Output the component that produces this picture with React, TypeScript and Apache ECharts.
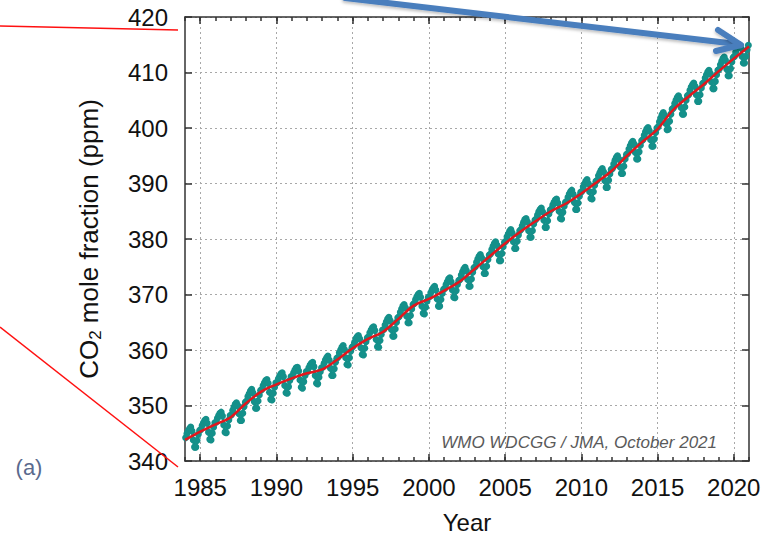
import React, { useEffect, useRef } from "react";
import * as echarts from "echarts";

const FONT = '"Liberation Sans", Arial, Helvetica, sans-serif';

const startYear = 1984;
// Monthly global-mean CO2 (ppm), Jan..Dec, one row per year 1984-2020
const co2ByYear: number[][] = [
  [344.2, 344.9, 345.4, 345.8, 346.1, 345.4, 343.8, 342.5, 342.5, 343.7, 344.8, 345.5],
  [345.7, 346.4, 346.9, 347.3, 347.5, 346.8, 345.2, 343.9, 343.8, 345.0, 346.1, 346.9],
  [347.0, 347.7, 348.2, 348.6, 348.8, 348.1, 346.5, 345.2, 345.1, 346.3, 347.4, 348.2],
  [348.3, 349.1, 349.7, 350.2, 350.5, 350.0, 348.5, 347.3, 347.3, 348.6, 349.8, 350.6],
  [350.8, 351.6, 352.1, 352.6, 352.9, 352.3, 350.7, 349.5, 349.5, 350.8, 351.9, 352.7],
  [352.9, 353.6, 354.1, 354.5, 354.7, 354.0, 352.4, 351.1, 351.0, 352.2, 353.3, 354.1],
  [354.1, 354.8, 355.3, 355.7, 355.9, 355.2, 353.6, 352.3, 352.2, 353.4, 354.5, 355.2],
  [355.2, 355.9, 356.4, 356.8, 356.9, 356.2, 354.6, 353.3, 353.1, 354.3, 355.4, 356.1],
  [356.1, 356.8, 357.3, 357.6, 357.8, 357.0, 355.4, 354.0, 353.9, 355.1, 356.1, 356.8],
  [356.9, 357.6, 358.2, 358.6, 358.9, 358.2, 356.7, 355.4, 355.4, 356.6, 357.8, 358.5],
  [358.7, 359.5, 360.0, 360.5, 360.8, 360.1, 358.6, 357.4, 357.3, 358.6, 359.8, 360.5],
  [360.7, 361.4, 362.0, 362.4, 362.6, 362.0, 360.4, 359.2, 359.1, 360.3, 361.5, 362.2],
  [362.4, 363.1, 363.6, 364.0, 364.2, 363.5, 361.9, 360.6, 360.5, 361.7, 362.8, 363.6],
  [363.7, 364.5, 365.1, 365.6, 365.9, 365.3, 363.7, 362.5, 362.5, 363.8, 365.0, 365.8],
  [366.0, 366.8, 367.4, 367.9, 368.2, 367.6, 366.1, 364.9, 364.9, 366.2, 367.4, 368.2],
  [368.4, 369.1, 369.6, 370.0, 370.2, 369.5, 367.9, 366.6, 366.5, 367.7, 368.8, 369.5],
  [369.6, 370.3, 370.8, 371.2, 371.5, 370.8, 369.2, 367.9, 367.9, 369.1, 370.2, 370.9],
  [371.1, 371.8, 372.3, 372.8, 373.0, 372.3, 370.8, 369.5, 369.4, 370.7, 371.8, 372.5],
  [372.7, 373.5, 374.1, 374.6, 374.9, 374.3, 372.7, 371.5, 371.5, 372.8, 374.0, 374.8],
  [375.0, 375.8, 376.4, 376.9, 377.2, 376.6, 375.0, 373.8, 373.8, 375.1, 376.3, 377.1],
  [377.3, 378.1, 378.7, 379.2, 379.5, 378.9, 377.3, 376.1, 376.1, 377.4, 378.6, 379.4],
  [379.6, 380.4, 380.9, 381.4, 381.7, 381.1, 379.5, 378.3, 378.3, 379.6, 380.7, 381.5],
  [381.7, 382.4, 383.0, 383.5, 383.7, 383.1, 381.5, 380.3, 380.3, 381.5, 382.7, 383.4],
  [383.6, 384.3, 384.9, 385.3, 385.6, 384.9, 383.4, 382.1, 382.1, 383.3, 384.5, 385.2],
  [385.4, 386.1, 386.6, 387.0, 387.2, 386.5, 385.0, 383.7, 383.6, 384.8, 385.9, 386.6],
  [386.8, 387.5, 388.1, 388.5, 388.8, 388.1, 386.6, 385.3, 385.3, 386.5, 387.7, 388.4],
  [388.6, 389.4, 389.9, 390.4, 390.7, 390.0, 388.5, 387.3, 387.2, 388.5, 389.7, 390.4],
  [390.6, 391.4, 391.9, 392.4, 392.7, 392.1, 390.5, 389.3, 389.3, 390.6, 391.7, 392.5],
  [392.7, 393.5, 394.2, 394.7, 395.0, 394.4, 393.0, 391.8, 391.8, 393.1, 394.4, 395.2],
  [395.4, 396.2, 396.8, 397.3, 397.6, 397.1, 395.6, 394.4, 394.4, 395.7, 396.9, 397.7],
  [397.9, 398.7, 399.3, 399.8, 400.1, 399.5, 397.9, 396.7, 396.7, 398.0, 399.2, 400.0],
  [400.2, 401.1, 401.8, 402.4, 402.8, 402.3, 400.8, 399.7, 399.8, 401.2, 402.5, 403.4],
  [403.6, 404.4, 405.0, 405.5, 405.8, 405.2, 403.7, 402.5, 402.5, 403.8, 405.0, 405.8],
  [406.0, 406.8, 407.4, 407.8, 408.1, 407.5, 406.0, 404.8, 404.8, 406.0, 407.2, 408.0],
  [408.2, 409.0, 409.6, 410.1, 410.4, 409.8, 408.3, 407.1, 407.1, 408.4, 409.6, 410.4],
  [410.6, 411.4, 412.0, 412.5, 412.8, 412.2, 410.6, 409.4, 409.4, 410.7, 411.9, 412.7],
  [412.9, 413.7, 414.3, 414.7, 415.0, 414.4, 412.9, 411.7, 411.7, 412.9, 414.1, 414.9],
];

// Deseasonalized trend at the start of each year 1984..2021
const trendYears = [
  1984, 1985, 1986, 1987, 1988, 1989, 1990, 1991, 1992, 1993, 1994, 1995, 1996,
  1997, 1998, 1999, 2000, 2001, 2002, 2003, 2004, 2005, 2006, 2007, 2008, 2009,
  2010, 2011, 2012, 2013, 2014, 2015, 2016, 2017, 2018, 2019, 2020, 2021,
];
const trendValues = [
  343.8, 345.3, 346.6, 347.9, 350.4, 352.5, 353.8, 354.9, 355.8, 356.5, 358.3,
  360.3, 362.0, 363.3, 365.6, 368.0, 369.2, 370.7, 372.3, 374.6, 376.9, 379.2,
  381.3, 383.2, 385.0, 386.4, 388.2, 390.2, 392.3, 395.0, 397.5, 399.8, 403.2,
  405.6, 407.8, 410.2, 412.5, 414.7,
];

const xMajorTicks = [1985, 1990, 1995, 2000, 2005, 2010, 2015, 2020];
const xMinorTicks = trendYears;
const yTicks = [340, 350, 360, 370, 380, 390, 400, 410, 420];

export default function App() {
  const ref = useRef<HTMLDivElement>(null);
  useEffect(() => {
    if (!ref.current) return;
    const chart = echarts.init(ref.current, undefined, { renderer: "svg" });

    const monthly: number[][] = [];
    co2ByYear.forEach((row, yi) => {
      row.forEach((v, mi) => {
        monthly.push([startYear + yi + (mi + 0.5) / 12, v]);
      });
    });
    const trend = trendYears.map((y, i) => [y, trendValues[i]]);

    const frame = { color: "#333", width: 1.5 };
    const grid = { color: "#a8a8a8", width: 1, type: [2, 3] as any };
    const xBase = { type: "value" as const, min: 1984, max: 2021, splitNumber: 7 };
    const plain = (v: number) => String(v);

    chart.setOption({
      animation: false,
      backgroundColor: "#fff",
      grid: { left: 185, top: 17, width: 564, height: 450, containLabel: false },
      xAxis: [
        {
          ...xBase,
          position: "bottom",
          axisLine: { show: true, onZero: false, lineStyle: frame },
          axisTick: { show: true, inside: true, length: 7, customValues: xMajorTicks, lineStyle: frame },
          axisLabel: { show: true, customValues: xMajorTicks, formatter: plain, fontSize: 24, color: "#111", fontFamily: FONT, margin: 14 },
          splitLine: { show: true, lineStyle: grid },
          name: "Year",
          nameLocation: "middle",
          nameGap: 49,
          nameTextStyle: { fontSize: 24, color: "#111", fontFamily: FONT },
        },
        {
          ...xBase,
          position: "bottom",
          axisLine: { show: false, onZero: false },
          axisTick: { show: true, inside: true, length: 4, customValues: xMinorTicks, lineStyle: frame },
          axisLabel: { show: false },
          splitLine: { show: false },
        },
        {
          ...xBase,
          position: "top",
          axisLine: { show: true, onZero: false, lineStyle: frame },
          axisTick: { show: true, inside: true, length: 7, customValues: xMajorTicks, lineStyle: frame },
          axisLabel: { show: false },
          splitLine: { show: false },
        },
        {
          ...xBase,
          position: "top",
          axisLine: { show: false, onZero: false },
          axisTick: { show: true, inside: true, length: 4, customValues: xMinorTicks, lineStyle: frame },
          axisLabel: { show: false },
          splitLine: { show: false },
        },
      ],
      yAxis: [
        {
          type: "value",
          min: 340,
          max: 420,
          interval: 10,
          position: "left",
          axisLine: { show: true, onZero: false, lineStyle: frame },
          axisTick: { show: true, inside: true, length: 7, customValues: yTicks, lineStyle: frame },
          axisLabel: { show: true, customValues: yTicks, formatter: plain, fontSize: 24, color: "#111", fontFamily: FONT, margin: 17 },
          splitLine: { show: true, lineStyle: grid },
          name: "{n|CO}{s|2}{n| mole fraction (ppm)}",
          nameLocation: "middle",
          nameRotate: 90,
          nameGap: 81,
          nameTextStyle: {
            rich: {
              n: { fontSize: 26, lineHeight: 30, color: "#111", fontFamily: FONT },
              s: { fontSize: 17, lineHeight: 14, color: "#111", fontFamily: FONT, verticalAlign: "bottom" },
            },
          },
        },
        {
          type: "value",
          min: 340,
          max: 420,
          interval: 10,
          position: "right",
          axisLine: { show: true, onZero: false, lineStyle: frame },
          axisTick: { show: true, inside: true, length: 7, lineStyle: frame },
          axisLabel: { show: false },
          splitLine: { show: false },
        },
      ],
      series: [
        {
          type: "line",
          name: "monthly",
          xAxisIndex: 0,
          yAxisIndex: 0,
          data: monthly,
          symbol: "circle",
          symbolSize: 7,
          showSymbol: true,
          lineStyle: { color: "#14908a", width: 2.5 },
          itemStyle: { color: "#14908a" },
          z: 2,
        },
        {
          type: "line",
          name: "trend",
          xAxisIndex: 0,
          yAxisIndex: 0,
          data: trend,
          smooth: 0.35,
          symbol: "none",
          lineStyle: { color: "#e3161c", width: 2.5 },
          z: 3,
        },
      ],
      graphic: [
        {
          type: "line",
          shape: { x1: 0, y1: 26, x2: 178, y2: 30 },
          style: { stroke: "#ff1010", lineWidth: 1.5 },
          z: 10,
        },
        {
          type: "line",
          shape: { x1: 0, y1: 327, x2: 178, y2: 467 },
          style: { stroke: "#ff1010", lineWidth: 1.5 },
          z: 10,
        },
        {
          type: "text",
          x: 29,
          y: 467,
          style: { text: "(a)", fontSize: 22, fill: "#5a6a8e", fontFamily: FONT, align: "center", verticalAlign: "middle" },
          z: 10,
        },
        {
          type: "text",
          x: 717,
          y: 442,
          style: {
            text: "WMO WDCGG / JMA, October 2021",
            fontSize: 17,
            fontStyle: "italic",
            fill: "#5a5a5a",
            fontFamily: FONT,
            align: "right",
            verticalAlign: "middle",
          },
          z: 10,
        },
        {
          type: "line",
          shape: { x1: 345, y1: -2, x2: 737, y2: 44 },
          style: { stroke: "#4a7ebd", lineWidth: 6, lineCap: "round", shadowBlur: 3, shadowColor: "rgba(0,0,0,0.25)", shadowOffsetY: 2 },
          z: 20,
        },
        {
          type: "polyline",
          shape: { points: [[718, 30], [741, 45], [716, 51]] },
          style: { stroke: "#4a7ebd", lineWidth: 6, fill: "none", lineCap: "round", lineJoin: "round", shadowBlur: 3, shadowColor: "rgba(0,0,0,0.25)", shadowOffsetY: 2 },
          z: 20,
        },
      ],
    });
    return () => chart.dispose();
  }, []);

  return (
    <div
      ref={ref}
      style={{ position: "fixed", left: 0, top: 0, width: 769, height: 539, background: "#fff" }}
    />
  );
}
